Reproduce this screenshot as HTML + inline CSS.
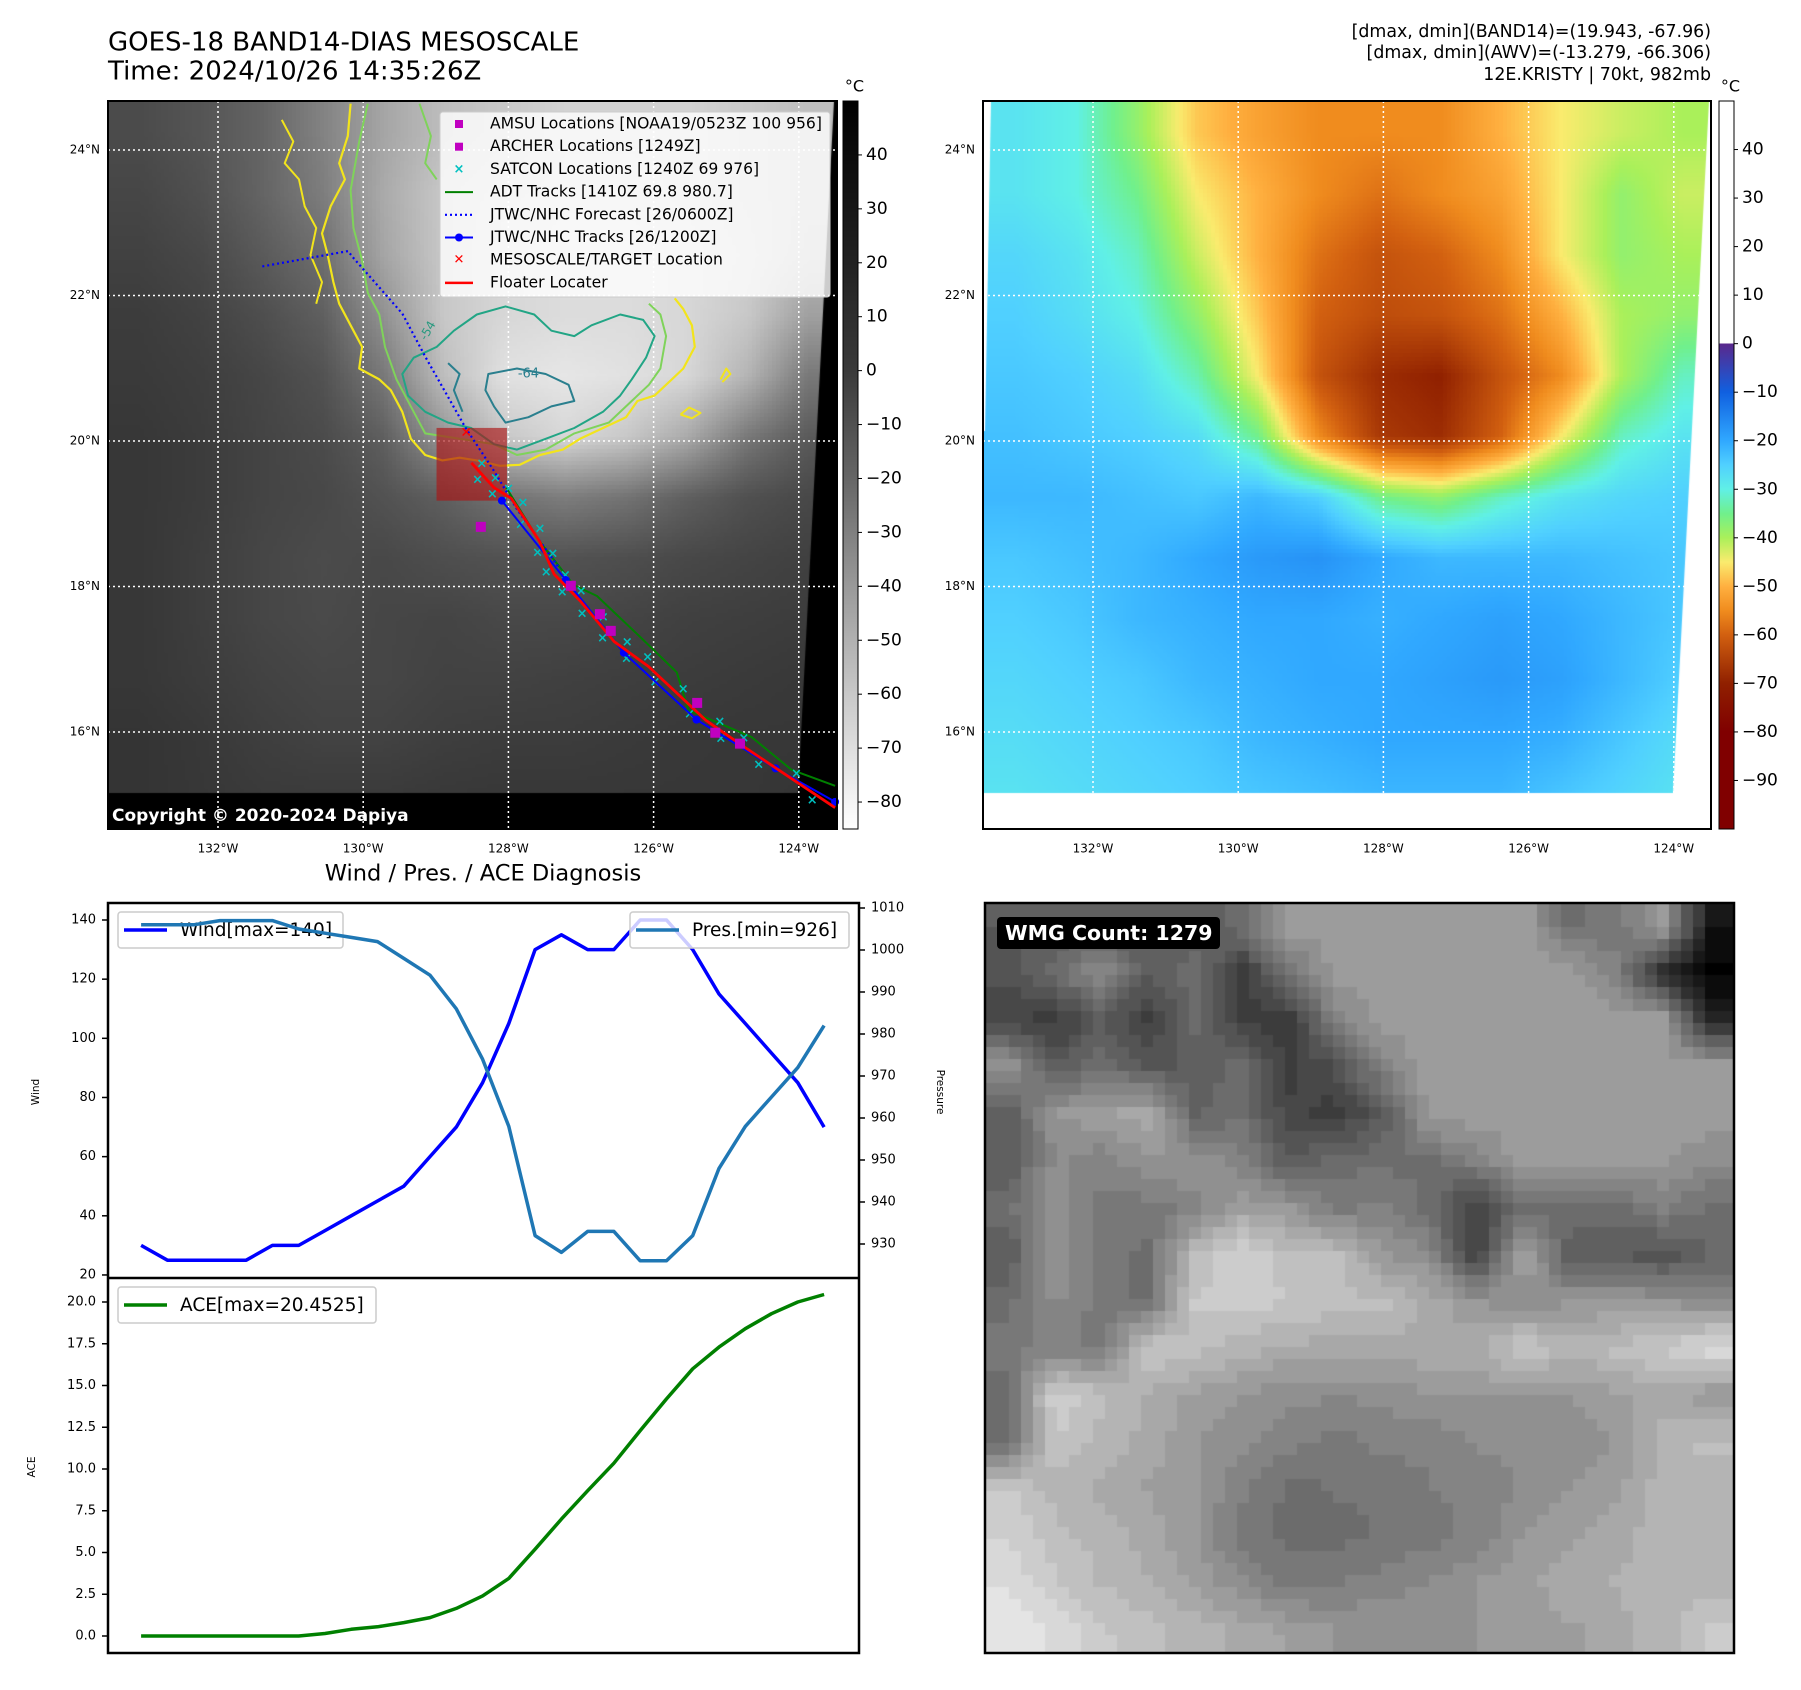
<!DOCTYPE html>
<html><head><meta charset="utf-8"><style>
body{margin:0;background:#fff;width:1801px;height:1690px;position:relative;overflow:hidden;font-family:"DejaVu Sans","Liberation Sans",sans-serif}
canvas{position:absolute}
svg{position:absolute;left:0;top:0;font-family:"DejaVu Sans","Liberation Sans",sans-serif}
</style></head><body>
<canvas id="sat" width="729" height="728" style="left:108px;top:101px"></canvas>
<canvas id="awv" width="728" height="728" style="left:983px;top:101px"></canvas>
<canvas id="wmg" width="749" height="750" style="left:985px;top:903px"></canvas>
<svg id="main" width="1801" height="1690"></svg>
<script>
// ---------- data ----------
const wind=[30,25,25,25,25,30,30,35,40,45,50,60,70,85,105,130,135,130,130,140,140,130,115,105,95,85,70];
const pres=[1006,1006,1006,1007,1007,1007,1005,1004,1003,1002,998,994,986,974,958,932,928,933,933,926,926,932,948,958,965,972,982];
const ace=[0,0,0,0,0,0,0,0.15,0.4,0.55,0.8,1.1,1.65,2.4,3.45,5.2,7.0,8.7,10.35,12.3,14.2,16.0,17.3,18.4,19.3,20.0,20.45];
const windTicks=[20,40,60,80,100,120,140];
const presTicks=[930,940,950,960,970,980,990,1000,1010];
const aceTicks=[0,2.5,5,7.5,10,12.5,15,17.5,20];
const latTicks=[16,18,20,22,24];
const lonTicks=[-132,-130,-128,-126,-124];
const leftCbarTicks=[40,30,20,10,0,-10,-20,-30,-40,-50,-60,-70,-80];
const rightCbarTicks=[40,30,20,10,0,-10,-20,-30,-40,-50,-60,-70,-80,-90];
const fcstLon=[-131.39,-130.21,-130.13,-129.46,-129.14,-128.59,-128.20,-127.88,-127.29];
const fcstLat=[22.40,22.61,22.51,21.75,21.15,20.18,19.59,19.06,18.24];
const jtwcLon=[-128.09,-127.21,-126.41,-125.41,-124.32,-123.50];
const jtwcLat=[19.18,18.09,17.09,16.17,15.50,15.04];
const floatLon=[-128.51,-128.20,-127.96,-127.57,-127.37,-127.01,-126.54,-126.07,-125.28,-124.73,-123.50];
const floatLat=[19.70,19.36,19.21,18.62,18.17,17.80,17.24,16.90,16.16,15.78,14.96];
const adtLon=[-128.03,-127.57,-127.10,-126.78,-126.23,-125.68,-125.52,-124.65,-124.10,-123.50];
const adtLat=[19.36,18.62,18.02,17.87,17.35,16.82,16.30,15.93,15.48,15.26];
const amsuLon=[-128.38,-127.14,-126.74,-126.59,-125.40,-125.15,-124.81];
const amsuLat=[18.82,18.01,17.62,17.39,16.40,15.99,15.84];

const NS='http://www.w3.org/2000/svg';
const svg=document.getElementById('main');
function mk(tag,attrs,parent){const e=document.createElementNS(NS,tag);for(const k in attrs)e.setAttribute(k,attrs[k]);(parent||svg).appendChild(e);return e;}
function txt(s,x,y,size,anchor,extra,parent){const t=mk('text',Object.assign({x:x,y:y,'font-size':size,'text-anchor':anchor||'start','dominant-baseline':'middle',fill:'#000'},extra||{}),parent);t.textContent=s;return t;}

// ---------- map axes ----------
const MAP1={x0:108,x1:837,y0:101,y1:829};
const MAP2={x0:983,x1:1711,y0:101,y1:829};
function lonX(m,lon){return m.x0+110+(lon+132)*72.6;}
function latY(lat){return 150+(24-lat)*72.75;}

// ---------- satellite canvas ----------
const satGrid=[
[75,85,100,130,165,190,200,210,210,210,200,190],
[70,80,100,125,170,200,210,215,215,210,200,190],
[65,72,90,110,165,200,215,220,220,215,205,185],
[60,66,78,95,145,200,215,220,220,215,200,160],
[58,62,70,82,120,190,225,230,225,215,180,120],
[55,60,68,75,95,150,200,215,200,170,120,90],
[55,60,68,72,82,95,115,125,115,95,80,72],
[55,62,70,75,72,78,82,82,78,72,68,64],
[55,62,70,74,70,68,72,72,68,64,62,60],
[55,60,66,70,70,66,66,64,62,60,58,56],
[52,56,62,66,66,62,60,60,58,56,55,55],
[52,55,58,58,58,56,55,55,55,55,55,52]];
function bil(g,u,v){const n=g.length,m=g[0].length;let fx=u*m-0.5,fy=v*n-0.5;fx=Math.max(0,Math.min(m-1.001,fx));fy=Math.max(0,Math.min(n-1.001,fy));const i=Math.floor(fy),j=Math.floor(fx),a=fx-j,b=fy-i;return g[i][j]*(1-a)*(1-b)+g[i][j+1]*a*(1-b)+g[i+1][j]*(1-a)*b+g[i+1][j+1]*a*b;}
(function(){const c=document.getElementById('sat').getContext('2d');const W=729,H=728,s=4;
for(let y=0;y<H;y+=s)for(let x=0;x<W;x+=s){const v=Math.round(bil(satGrid,x/W,y/H));c.fillStyle=`rgb(${v},${v},${v})`;c.fillRect(x,y,s,s);}
c.fillStyle='#000';c.beginPath();c.moveTo(W,0);c.lineTo(W,H);c.lineTo(0,H);c.lineTo(0,692);c.lineTo(690,692);c.lineTo(W-3,0);c.closePath();c.fill();})();

// ---------- AWV canvas ----------
const awvGrid=[
[-28,-30,-38,-48,-52,-55,-55,-55,-50,-45,-42,-40],
[-28,-30,-35,-45,-50,-55,-58,-55,-52,-45,-38,-42],
[-26,-28,-32,-42,-50,-58,-62,-60,-55,-45,-38,-40],
[-25,-27,-30,-38,-48,-60,-63,-62,-58,-50,-40,-38],
[-24,-25,-27,-33,-45,-62,-68,-70,-62,-55,-40,-32],
[-23,-24,-25,-27,-35,-55,-66,-68,-60,-45,-32,-28],
[-22,-22,-23,-24,-22,-25,-35,-38,-32,-28,-26,-25],
[-24,-23,-22,-20,-18,-17,-20,-22,-22,-22,-23,-24],
[-25,-24,-22,-21,-20,-20,-21,-20,-19,-20,-22,-24],
[-26,-25,-24,-22,-21,-20,-20,-19,-18,-19,-22,-25],
[-27,-26,-25,-24,-22,-21,-20,-20,-20,-21,-24,-27],
[-28,-27,-26,-25,-24,-23,-22,-22,-22,-24,-26,-28]];
const cmapV=[0,-10,-20,-25,-30,-35,-40,-45,-50,-55,-60,-65,-70,-80,-100];
const cmapC=[[90,40,140],[16,96,224],[48,168,255],[80,208,255],[96,240,230],[112,240,140],[170,240,90],[250,235,110],[255,176,64],[240,140,30],[210,96,16],[176,64,8],[144,32,0],[128,0,0],[128,0,0]];
function cmap(v){if(v>0)return[255,255,255];for(let k=0;k<cmapV.length-1;k++){if(v<=cmapV[k]&&v>=cmapV[k+1]){const t=(cmapV[k]-v)/(cmapV[k]-cmapV[k+1]);return cmapC[k].map((c,i)=>Math.round(c+(cmapC[k+1][i]-c)*t));}}return cmapC[cmapC.length-1];}
(function(){const c=document.getElementById('awv').getContext('2d');const W=728,H=728,s=4;
for(let y=0;y<H;y+=s)for(let x=0;x<W;x+=s){const col=cmap(bil(awvGrid,x/W,y/H));c.fillStyle=`rgb(${col[0]},${col[1]},${col[2]})`;c.fillRect(x,y,s,s);}
c.fillStyle='#fff';c.beginPath();c.moveTo(W,0);c.lineTo(W,H);c.lineTo(0,H);c.lineTo(0,692);c.lineTo(690,692);c.lineTo(W-2,0);c.closePath();c.fill();
c.beginPath();c.moveTo(0,0);c.lineTo(8,0);c.lineTo(2,330);c.lineTo(0,330);c.closePath();c.fill();})();

// ---------- WMG canvas ----------
const wmgGrid=[
[90,90,90,90,90,110,158,158,158,158,158,158,110,120,158,20],
[80,110,140,90,110,60,110,158,158,158,158,158,158,130,40,0],
[70,60,90,60,110,60,60,130,158,158,158,158,158,158,158,40],
[150,90,110,90,90,110,60,80,130,158,158,158,158,158,158,158],
[90,150,160,170,100,110,70,60,90,158,158,158,158,158,158,158],
[90,140,130,150,150,130,90,110,110,110,130,158,158,158,150,140],
[110,150,120,120,130,160,150,120,130,110,60,110,110,110,130,110],
[90,150,120,110,190,210,190,190,150,140,60,170,90,90,80,100],
[110,140,120,110,200,200,200,190,190,170,150,140,150,150,150,140],
[120,130,120,200,190,180,170,170,170,170,170,200,180,190,200,220],
[110,210,190,170,160,150,140,140,140,150,150,150,150,160,170,150],
[110,200,180,170,150,140,130,120,130,130,140,140,140,150,180,190],
[200,180,170,160,150,130,110,115,115,125,130,140,150,160,180,180],
[210,190,180,170,150,120,110,110,115,120,130,150,160,170,180,180],
[220,200,185,175,160,140,120,125,130,140,150,160,170,175,180,180],
[230,220,200,190,180,170,160,150,150,150,150,150,160,170,180,200]];
(function(){const c=document.getElementById('wmg').getContext('2d');const W=749,H=750,s=12;
for(let y=0;y<H;y+=s)for(let x=0;x<W;x+=s){let v=bil(wmgGrid,(x+s/2)/W,(y+s/2)/H);v=Math.round(v/12)*12;c.fillStyle=`rgb(${v},${v},${v})`;c.fillRect(x,y,s,s);}})();

// ---------- map frames, grids, labels ----------
function mapDecor(m,name){
  const g=mk('g',{});
  latTicks.forEach(l=>{mk('line',{x1:m.x0,x2:m.x1,y1:latY(l),y2:latY(l),stroke:'#fff','stroke-width':1.5,'stroke-dasharray':'2,3'},g);
    const t=txt(l+'°N',m.x0-8,latY(l),12,'end');});
  lonTicks.forEach(l=>{const x=lonX(m,l);mk('line',{x1:x,x2:x,y1:m.y0,y2:m.y1,stroke:'#fff','stroke-width':1.5,'stroke-dasharray':'2,3'},g);
    const t=txt((-l)+'°W',x,849,12,'middle');});
}
mapDecor(MAP1,'ir-map');mapDecor(MAP2,'awv-map');

// contours (in reference sub-pixel grid of map 1)
function zc(p){return [108+(p[0]-187)*0.5736,101+(p[1]-185)*0.5405];}
function poly(pts,color,w,closed,name){const d=pts.map(zc).map((p,i)=>(i?'L':'M')+p[0].toFixed(1)+' '+p[1].toFixed(1)).join(' ')+(closed?'Z':'');const e=mk('path',{d:d,fill:'none',stroke:color,'stroke-width':w,'stroke-linejoin':'round'});return e;}
poly([[610,190],[605,250],[590,300],[600,330],[575,380],[560,430],[570,470],[580,520],[590,560],[610,600],[630,640],[625,680],[660,700],[680,720],[700,760],[715,810],[740,840],[770,850],[800,845],[830,850],[870,860],[905,858],[940,840],[980,830],[1010,810],[1050,790],[1090,770],[1110,740],[1140,730],[1170,700],[1190,680],[1210,640],[1205,600],[1190,570],[1175,550]],'#f2e41c',2.2,false,'contour-yellow');
poly([[490,220],[510,260],[495,300],[520,330],[530,380],[550,420],[540,470],[560,520],[550,560]],'#f2e41c',2,false,'contour-yellow-fragment');
poly([[1185,765],[1200,752],[1220,762],[1205,772],[1185,765]],'#f2e41c',2,false,'contour-yellow-blob');
poly([[1255,700],[1265,680],[1272,690],[1258,705]],'#f2e41c',2,false,'contour-yellow-blob2');
poly([[640,190],[625,260],[610,350],[615,420],[630,480],[640,540],[660,580],[670,640],[690,700],[720,760],[740,800],[800,810],[860,820],[900,840],[950,830],[1000,800],[1060,780],[1100,740],[1130,710],[1150,680],[1160,620],[1150,580],[1130,560]],'#7fd35a',2,false,'contour-green');
poly([[730,190],[750,250],[740,300],[760,330]],'#7fd35a',2,false,'contour-green-fragment');
poly([[830,580],[880,565],[930,580],[960,610],[1000,620],[1030,600],[1080,580],[1120,590],[1140,620],[1125,660],[1100,700],[1080,730],[1050,760],[1000,790],[950,810],[900,830],[860,820],[820,790],[780,780],[740,760],[710,730],[700,690],[720,660],[760,640],[790,610]],'#22a585',2,true,'contour-teal');
poly([[850,690],[900,680],[950,690],[990,710],[1000,740],[960,750],[920,770],[880,780],[860,750],[845,720]],'#2a7f8e',2,true,'contour-dark-teal');
poly([[780,670],[800,690],[790,720],[805,760]],'#2a7f8e',2,false,'contour-dark-teal-fragment');
{const p=zc([745,610]);txt('-54',p[0],p[1],12,'middle',{fill:'#2a9a80',transform:`rotate(-60 ${p[0]} ${p[1]})`});const q=zc([920,690]);txt('-64',q[0],q[1],13,'middle',{fill:'#2a7f8e'});}

// red target box
{const x0=lonX(MAP1,-128.99),x1=lonX(MAP1,-128.02),y0=latY(20.18),y1=latY(19.18);
const r=mk('rect',{x:x0,y:y0,width:x1-x0,height:y1-y0,fill:'rgba(170,20,20,0.65)'});}

function trackPath(lons,lats,color,w,dash,name){const d=lons.map((l,i)=>(i?'L':'M')+lonX(MAP1,l).toFixed(1)+' '+latY(lats[i]).toFixed(1)).join(' ');const e=mk('path',{d:d,fill:'none',stroke:color,'stroke-width':w,'stroke-dasharray':dash||'none','stroke-linejoin':'round'});return e;}
trackPath(adtLon,adtLat,'#008000',2,null,'adt-track');
for(let i=0;i<floatLon.length-1;i++){for(const t of [0.2,0.5,0.8]){const lon=floatLon[i]+(floatLon[i+1]-floatLon[i])*t,lat=floatLat[i]+(floatLat[i+1]-floatLat[i])*t;
 const x=lonX(MAP1,lon)+((i+t*10)%2<1?6:-5),y=latY(lat)+((i+t*10)%2<1?-4:5);
 const m=txt('×',x,y,13,'middle',{fill:'#00c0c0','font-weight':'bold'});}}
trackPath(fcstLon,fcstLat,'#0000ff',2.2,'2,3','jtwc-forecast-track');
trackPath(jtwcLon,jtwcLat,'#0000ff',2,null,'jtwc-track');
jtwcLon.forEach((l,i)=>{const c=mk('circle',{cx:lonX(MAP1,l),cy:latY(jtwcLat[i]),r:4,fill:'#0000ff'});});
trackPath(floatLon,floatLat,'#ff0000',2.8,null,'floater-track');
amsuLon.forEach((l,i)=>{const r=mk('rect',{x:lonX(MAP1,l)-5,y:latY(amsuLat[i])-5,width:10,height:10,fill:'#c000c0'});});
{const t=txt('✕',lonX(MAP1,-128.58),latY(20.11),14,'middle',{fill:'#ff0000','font-weight':'bold'});}

// legend
{const g=mk('g',{});
mk('rect',{x:440,y:112,width:390,height:185,rx:3,fill:'rgba(255,255,255,0.8)',stroke:'#ccc'},g);
const items=['AMSU Locations [NOAA19/0523Z 100 956]','ARCHER Locations [1249Z]','SATCON Locations [1240Z 69 976]','ADT Tracks [1410Z 69.8 980.7]','JTWC/NHC Forecast [26/0600Z]','JTWC/NHC Tracks [26/1200Z]','MESOSCALE/TARGET Location','Floater Locater'];
items.forEach((s,i)=>{const y=124+i*22.7;
 if(i<2)mk('rect',{x:455,y:y-4,width:8,height:8,fill:'#c000c0'},g);
 else if(i==2)txt('×',459,y,13,'middle',{fill:'#00c0c0','font-weight':'bold'},g);
 else if(i==3)mk('line',{x1:445,x2:473,y1:y,y2:y,stroke:'#008000','stroke-width':2},g);
 else if(i==4)mk('line',{x1:445,x2:473,y1:y,y2:y,stroke:'#0000ff','stroke-width':2.2,'stroke-dasharray':'2,3'},g);
 else if(i==5){mk('line',{x1:445,x2:473,y1:y,y2:y,stroke:'#0000ff','stroke-width':2},g);mk('circle',{cx:459,cy:y,r:4,fill:'#0000ff'},g);}
 else if(i==6)txt('✕',459,y,13,'middle',{fill:'#ff0000','font-weight':'bold'},g);
 else mk('line',{x1:445,x2:473,y1:y,y2:y,stroke:'#ff0000','stroke-width':2.5},g);
 const t=txt(s,490,y,15.6,'start',{},g);});}

// copyright
{const t=txt('Copyright © 2020-2024 Dapiya',112,816,17,'start',{fill:'#fff','font-weight':'bold'});}

// frames
[[MAP1,'ir-map-frame'],[MAP2,'awv-map-frame']].forEach(([m,n])=>{const r=mk('rect',{x:m.x0,y:m.y0,width:m.x1-m.x0,height:m.y1-m.y0,fill:'none',stroke:'#000','stroke-width':2});});

// colorbars
function cbar(x,w,top,bot,vmax,vmin,stops,ticks,name){
 const id='g'+name;const d=mk('defs',{});const lg=mk('linearGradient',{id:id,x1:0,y1:0,x2:0,y2:1},d);
 stops.forEach(s=>mk('stop',{offset:((vmax-s[0])/(vmax-vmin)).toFixed(4),'stop-color':s[1]},lg));
 const r=mk('rect',{x:x,y:top,width:w,height:bot-top,fill:`url(#${id})`,stroke:'#000','stroke-width':1});
 ticks.forEach(v=>{const y=top+(vmax-v)/(vmax-vmin)*(bot-top);mk('line',{x1:x+w,x2:x+w+4,y1:y,y2:y,stroke:'#000'});const t=txt(String(v).replace('-','−'),x+w+8,y,17,'start');});
 const u=txt('°C',x+w/2+4,87,16,'middle');}
cbar(843,15,101,829,50,-85,[[50,'#000'],[20,'#222'],[0,'#3a3a3a'],[-20,'#666'],[-40,'#999'],[-60,'#c8c8c8'],[-85,'#fff']],leftCbarTicks,'ir-colorbar');
const rs=[[50,'#fff'],[0.01,'#fff']];cmapV.forEach((v,i)=>rs.push([v,`rgb(${cmapC[i].join(',')})`]));
cbar(1719,15,101,829,50,-100,rs,rightCbarTicks,'awv-colorbar');

// titles
txt('GOES-18 BAND14-DIAS MESOSCALE',108,43,26);
txt('Time: 2024/10/26 14:35:26Z',108,72,26);
txt('[dmax, dmin](BAND14)=(19.943, -67.96)',1711,32,17.4,'end');
txt('[dmax, dmin](AWV)=(-13.279, -66.306)',1711,53,17.4,'end');
txt('12E.KRISTY | 70kt, 982mb',1711,75,17.4,'end');

// ---------- bottom-left chart ----------
const AX={x0:108,x1:859,top:903,mid:1278,bot:1653};
const xi=i=>AX.x0+(i+1.26)*(AX.x1-AX.x0)/28.59;
const yW=v=>920+(140-v)*2.958;
const yP=v=>908+(1010-v)*4.2;
const yA=v=>1636-v*16.7;
txt('Wind / Pres. / ACE Diagnosis',483,874,22.5,'middle');
function line(arr,fy,color,w,name){const d=arr.map((v,i)=>(i?'L':'M')+xi(i).toFixed(1)+' '+fy(v).toFixed(1)).join(' ');const e=mk('path',{d:d,fill:'none',stroke:color,'stroke-width':w,'stroke-linejoin':'round'});}
windTicks.forEach(v=>{mk('line',{x1:AX.x0-6,x2:AX.x0,y1:yW(v),y2:yW(v),stroke:'#000','stroke-width':1.5});txt(String(v),AX.x0-12,yW(v),13,'end');});
presTicks.forEach(v=>{mk('line',{x1:AX.x1,x2:AX.x1+6,y1:yP(v),y2:yP(v),stroke:'#000','stroke-width':1.5});txt(String(v),AX.x1+12,yP(v),13,'start');});
aceTicks.forEach(v=>{mk('line',{x1:AX.x0-6,x2:AX.x0,y1:yA(v),y2:yA(v),stroke:'#000','stroke-width':1.5});txt(v.toFixed(1),AX.x0-12,yA(v),13,'end');});
txt('Wind',36,1092,10.5,'middle',{transform:'rotate(-90 36 1092)'});
txt('Pressure',940,1092,10.5,'middle',{transform:'rotate(90 940 1092)'});
txt('ACE',32,1467,10.5,'middle',{transform:'rotate(-90 32 1467)'});
line(wind,yW,'#0000ff',3.5,'wind-line');
{const g=mk('g',{});
mk('rect',{x:118,y:912,width:225,height:36,rx:3,fill:'rgba(255,255,255,0.8)',stroke:'#ccc','stroke-width':1.5},g);
mk('line',{x1:124,x2:167,y1:930,y2:930,stroke:'#0000ff','stroke-width':3.5},g);txt('Wind[max=140]',180,931,18.5,'start',{},g);}
line(pres,yP,'#1f77b4',3.5,'pressure-line');
{const g=mk('g',{});
mk('rect',{x:630,y:912,width:219,height:36,rx:3,fill:'rgba(255,255,255,0.8)',stroke:'#ccc','stroke-width':1.5},g);
mk('line',{x1:636,x2:679,y1:930,y2:930,stroke:'#1f77b4','stroke-width':3.5},g);txt('Pres.[min=926]',692,931,18.5,'start',{},g);}
line(ace,yA,'#008000',3.5,'ace-line');
{const g=mk('g',{});
mk('rect',{x:118,y:1287,width:258,height:36,rx:3,fill:'rgba(255,255,255,0.8)',stroke:'#ccc','stroke-width':1.5},g);
mk('line',{x1:124,x2:167,y1:1305,y2:1305,stroke:'#008000','stroke-width':3.5},g);txt('ACE[max=20.4525]',180,1306,18.5,'start',{},g);}
mk('rect',{x:AX.x0,y:AX.top,width:AX.x1-AX.x0,height:AX.bot-AX.top,fill:'none',stroke:'#000','stroke-width':2.5});
mk('line',{x1:AX.x0,x2:AX.x1,y1:AX.mid,y2:AX.mid,stroke:'#000','stroke-width':2.5});

// WMG frame/label
mk('rect',{x:985,y:903,width:749,height:750,fill:'none',stroke:'#000','stroke-width':2.5});
{const g=mk('g',{});
mk('rect',{x:997,y:917,width:223,height:32,rx:4,fill:'#000'},g);txt('WMG Count: 1279',1005,934,20.5,'start',{fill:'#fff','font-weight':'bold'},g);}
</script>
</body></html>
